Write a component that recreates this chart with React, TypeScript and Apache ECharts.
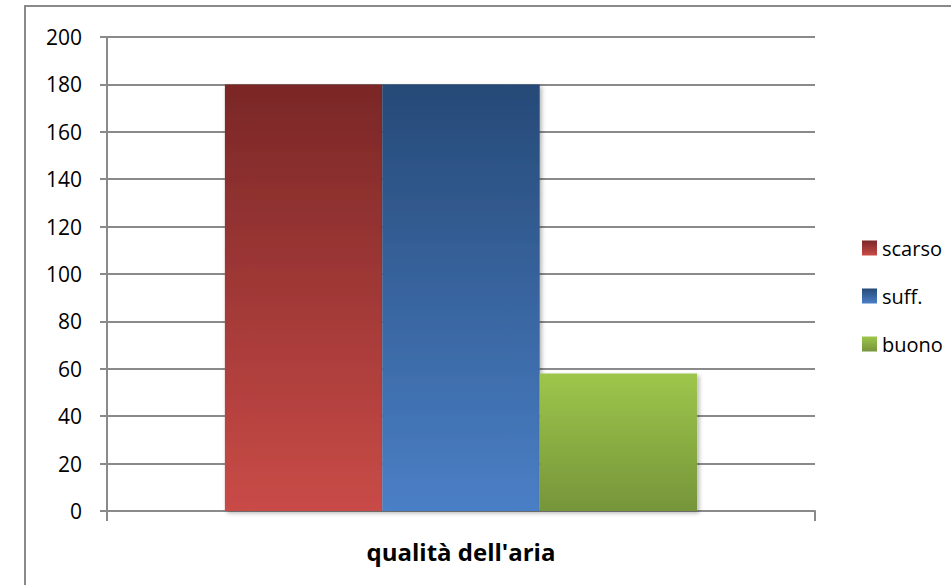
import React, { useEffect, useRef } from "react";
import * as echarts from "echarts";

const categories = ["qualità dell'aria"];
const seriesNames = ["scarso", "suff.", "buono"];
const scarsoValues = [180];
const suffValues = [180];
const buonoValues = [58];
const yTicks = { min: 0, max: 200, interval: 20 };

const gradients: [string, string][] = [
  ["#7a2727", "#c94b47"],
  ["#264a77", "#4a7fc6"],
  ["#9ec64b", "#76953a"],
];

const grad = (c: [string, string]) =>
  new echarts.graphic.LinearGradient(0, 0, 0, 1, [
    { offset: 0, color: c[0] },
    { offset: 1, color: c[1] },
  ]);

export default function App() {
  const ref = useRef<HTMLDivElement>(null);
  useEffect(() => {
    if (!ref.current) return;
    const chart = echarts.init(ref.current, undefined, { renderer: "svg" });
    const font = "'Open Sans', 'Noto Sans', sans-serif";
    const values = [scarsoValues, suffValues, buonoValues];
    chart.setOption({
      animation: false,
      backgroundColor: "#ffffff",
      textStyle: { fontFamily: font },
      graphic: [
        {
          type: "rect",
          shape: { x: 25, y: 6, width: 1000, height: 700 },
          style: { fill: "none", stroke: "#8a8a8a", lineWidth: 2 },
          silent: true,
          z: -10,
        },
      ],
      grid: { left: 107, right: 136, top: 37, bottom: 74, containLabel: false },
      legend: {
        orient: "vertical",
        left: 857,
        top: 232,
        itemWidth: 15,
        itemHeight: 15,
        itemGap: 26,
        icon: "rect",
        textStyle: { fontSize: 20, color: "#000", fontFamily: font, lineHeight: 22 },
        data: seriesNames,
      },
      xAxis: {
        type: "category",
        data: categories,
        axisLine: { show: true, lineStyle: { color: "#8a8a8a", width: 2 } },
        axisTick: { show: true, length: 10, lineStyle: { color: "#8a8a8a", width: 2 } },
        axisLabel: {
          fontSize: 24,
          fontWeight: "bold",
          color: "#000",
          margin: 28,
          fontFamily: font,
        },
      },
      yAxis: {
        type: "value",
        min: yTicks.min,
        max: yTicks.max,
        interval: yTicks.interval,
        axisLine: { show: true, lineStyle: { color: "#8a8a8a", width: 2 } },
        axisTick: { show: true, length: 7, lineStyle: { color: "#8a8a8a", width: 2 } },
        axisLabel: { fontSize: 21, color: "#000", margin: 25, fontFamily: font },
        splitLine: { show: true, lineStyle: { color: "#8a8a8a", width: 2 } },
      },
      series: seriesNames.map((name, i) => ({
        name,
        type: "bar",
        data: values[i],
        barGap: "0%",
        barCategoryGap: "33.3%",
        itemStyle: {
          color: grad(gradients[i]),
          shadowColor: "rgba(0,0,0,0.3)",
          shadowBlur: 4,
          shadowOffsetX: 2,
          shadowOffsetY: 2,
        },
      })),
    });
    return () => chart.dispose();
  }, []);
  return (
    <div
      ref={ref}
      style={{ position: "absolute", left: 0, top: 0, width: 951, height: 585 }}
    />
  );
}
